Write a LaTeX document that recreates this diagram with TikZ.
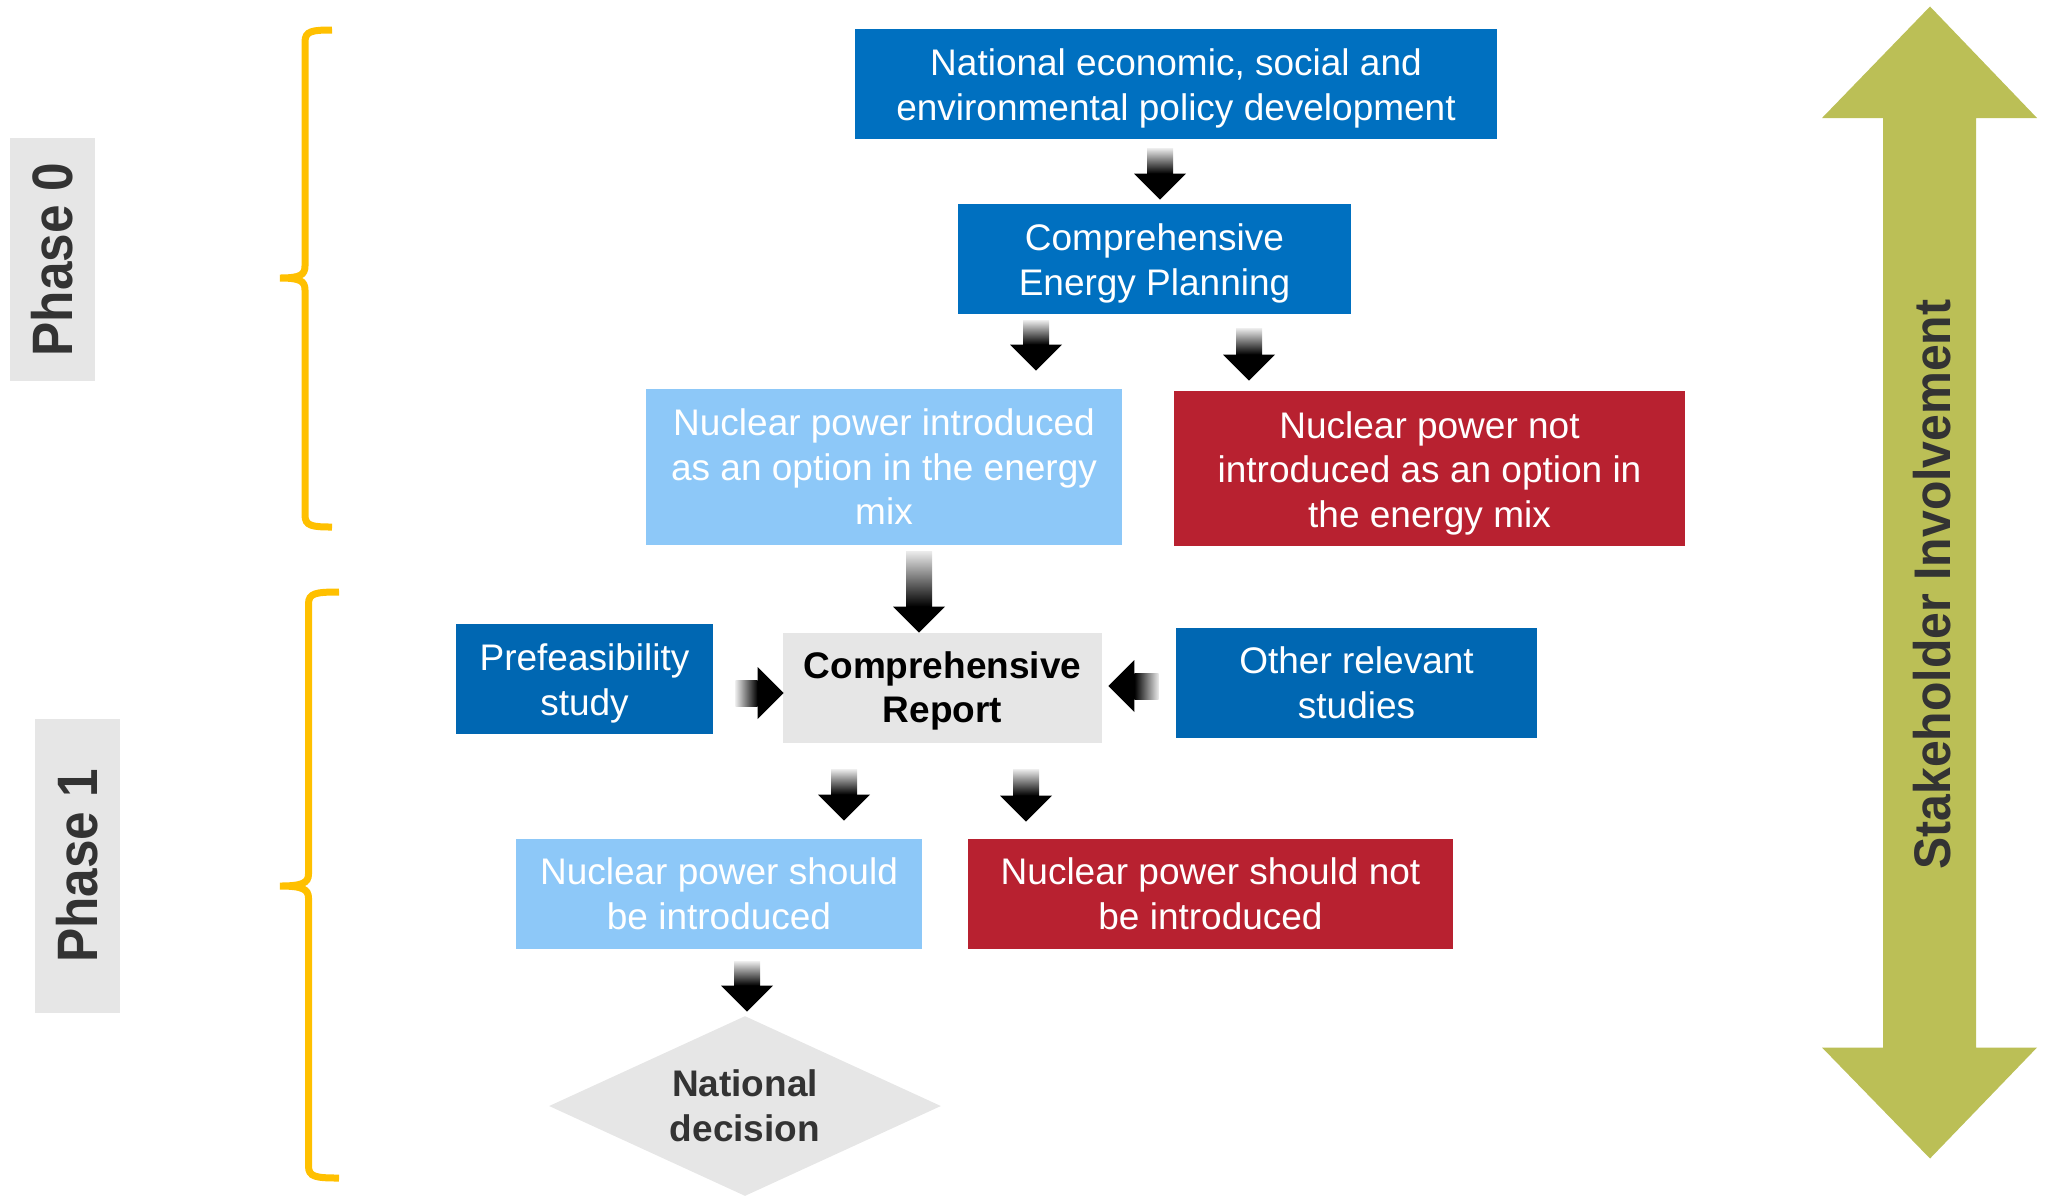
\documentclass[tikz,border=0pt]{standalone}
\usepackage{fontspec}
\usepackage{graphicx}
\setmainfont{Liberation Sans}
\usetikzlibrary{calc,positioning,shapes.geometric}

\definecolor{policyblue}{HTML}{0070C0}
\definecolor{studyblue}{HTML}{0067B2}
\definecolor{optionblue}{HTML}{8DC8F8}
\definecolor{optionred}{HTML}{B82130}
\definecolor{reportgray}{HTML}{E6E6E6}
\definecolor{bracegold}{HTML}{FFC000}
\definecolor{stakegreen}{HTML}{BBBF56}
\definecolor{labelgray}{HTML}{333333}

% taller first line, pushes the text of a box a little down
\newcommand\dropline[1][18pt]{\rule{0pt}{#1}}

\tikzset{
  box/.style={inner sep=0pt, align=center, minimum height=55pt,
    font=\fontsize{18.5pt}{22.25pt}\selectfont},
  policybox/.style={box, fill=policyblue, text=white},
  studybox/.style={box, fill=studyblue, text=white},
  yesbox/.style={box, fill=optionblue, text=white},
  nobox/.style={box, fill=optionred, text=white},
  reportbox/.style={box, fill=reportgray, text=black,
    font=\fontsize{18.5pt}{22.25pt}\selectfont\bfseries},
  phaselabel/.style={fill=reportgray, text=labelgray, rotate=90, inner sep=0pt,
    minimum height=42.5pt, font=\fontsize{28.5pt}{30pt}\selectfont\bfseries},
  brace/.style={draw=bracegold, line width=3.5pt},
  shaftdown/.style={top color=black!8, bottom color=black},
  shaftright/.style={left color=black!8, right color=black},
  shaftleft/.style={left color=black, right color=black!8},
}

% block arrow from tail #1 to tip #2, shaft shaded with #3
\newcommand\fatarrow[3]{%
  \coordinate (fa-base) at ($(#2)!13pt!(#1)$);
  \shade[#3] ($(#1)!6.5pt!90:(#2)$) -- ($(#1)!6.5pt!-90:(#2)$)
    -- ($(fa-base)!6.5pt!-90:(#2)$) -- ($(fa-base)!6.5pt!90:(#2)$) -- cycle;
  \fill[black] ($(fa-base)!13pt!90:(#2)$) -- (#2) -- ($(fa-base)!13pt!-90:(#2)$) -- cycle;
}

\begin{document}
\begin{tikzpicture}[x=0.5pt, y=-0.5pt]
		%%%%% START %%%%%
		\useasboundingbox (0,0) rectangle (2049,1196);
		
		% phases
		\node[phaselabel, minimum width=121.5pt] (phase0) at (52.5,259.5) {\scalebox{0.9}[1]{Phase 0}};
		\node[phaselabel, minimum width=147pt] (phase1) at (77.5,866) {\scalebox{0.9}[1]{Phase 1}};
		
		\draw[brace] (332,30) .. controls (312,30) and (305,31) .. (305,42) -- (305,266)
			.. controls (305,275) and (300,278) .. (280,278)
			.. controls (300,278) and (305,281) .. (305,290) -- (305,515)
			.. controls (305,526) and (312,527) .. (332,527);
		\draw[brace] (339,592) .. controls (316,592) and (308.5,593) .. (308.5,604) -- (308.5,874)
			.. controls (308.5,883) and (302,886) .. (280,886)
			.. controls (302,886) and (308.5,889) .. (308.5,898) -- (308.5,1166)
			.. controls (308.5,1177) and (316,1178) .. (339,1178);
		
		% phase 0
		\node[policybox, minimum width=321pt] (ndev) at (1176,84) {\dropline National economic, social and\\environmental policy development};
		\node[policybox, minimum width=196.5pt] (cep) at (1154.5,259) {\dropline Comprehensive\\Energy Planning};
		\node[yesbox, minimum width=238pt, minimum height=78pt] (npin) at (884,467) {Nuclear power introduced\\as an option in the energy\\mix};
		\node[nobox, minimum width=255.5pt, minimum height=77.5pt] (npout) at (1429.5,468.5) {\dropline Nuclear power not\\introduced as an option in\\the energy mix};
		
		% phase 1
		\node[studybox, minimum width=128.5pt] (pre) at (584.5,679) {\dropline Prefeasibility\\study};
		\node[reportbox, minimum width=159.5pt] (report) at (942.5,688) {\dropline[16.5pt]Comprehensive\\Report};
		\node[studybox, minimum width=180.5pt] (other) at (1356.5,683) {Other relevant\\studies};
		\node[yesbox, minimum width=203pt] (should) at (719,894) {Nuclear power should\\be introduced};
		\node[nobox, minimum width=242.5pt] (shouldnot) at (1210.5,894) {Nuclear power should not\\be introduced};
		\node[diamond, aspect=2.2, fill=reportgray, text=labelgray, inner sep=0pt, align=center,
			minimum width=196pt, minimum height=90pt,
			font=\fontsize{18.5pt}{22.25pt}\selectfont\bfseries] (decision) at (745,1106) {National\\decision};
		
		% arrows
		\coordinate (a1t) at ($(ndev.south)+(-16,9)$);
		\coordinate (a1h) at ($(a1t |- cep.north)+(0,-4)$);
		\coordinate (a2t) at ($(cep.south)+(-118.5,6)$);
		\coordinate (a2h) at ($(a2t |- npin.north)+(0,-18)$);
		\coordinate (a3t) at ($(cep.south)+(94.5,14)$);
		\coordinate (a3h) at ($(a3t |- npout.north)+(0,-10)$);
		\coordinate (a4t) at ($(npin.south)+(35,6)$);
		\coordinate (a4h) at (a4t |- report.north);
		\coordinate (a5t) at ($(pre.east)+(22,14)$);
		\coordinate (a5h) at ($(a5t -| report.west)+(1,0)$);
		\coordinate (a6t) at ($(other.west)+(-17,3)$);
		\coordinate (a6h) at ($(a6t -| report.east)+(6,0)$);
		\coordinate (a7t) at ($(report.south)+(-98.5,26)$);
		\coordinate (a7h) at ($(a7t |- should.north)+(0,-18)$);
		\coordinate (a8t) at ($(report.south)+(83.5,26)$);
		\coordinate (a8h) at ($(a8t |- shouldnot.north)+(0,-17)$);
		\coordinate (a9t) at ($(should.south)+(28,12)$);
		\coordinate (a9h) at ($(a9t |- decision.north)+(0,-4)$);
		
		\fatarrow{a1t}{a1h}{shaftdown}
		\fatarrow{a2t}{a2h}{shaftdown}
		\fatarrow{a3t}{a3h}{shaftdown}
		\fatarrow{a4t}{a4h}{shaftdown}
		\fatarrow{a5t}{a5h}{shaftright}
		\fatarrow{a6t}{a6h}{shaftleft}
		\fatarrow{a7t}{a7h}{shaftdown}
		\fatarrow{a8t}{a8h}{shaftdown}
		\fatarrow{a9t}{a9h}{shaftdown}
		
		% stakeholders
		\fill[stakegreen] (1930,6.5) -- (2037,118) -- (1976,118) -- (1976,1047.5) -- (2037,1047.5)
			-- (1930,1158.5) -- (1822,1047.5) -- (1883,1047.5) -- (1883,118) -- (1822,118) -- cycle;
		\node[rotate=90, text=labelgray, inner sep=0pt,
			font=\fontsize{25.75pt}{28pt}\selectfont\bfseries] (stake) at (1932,584.5) {\scalebox{0.935}[1]{Stakeholder Involvement}};
		
		%%%%% END %%%%%
\end{tikzpicture}
\end{document}
